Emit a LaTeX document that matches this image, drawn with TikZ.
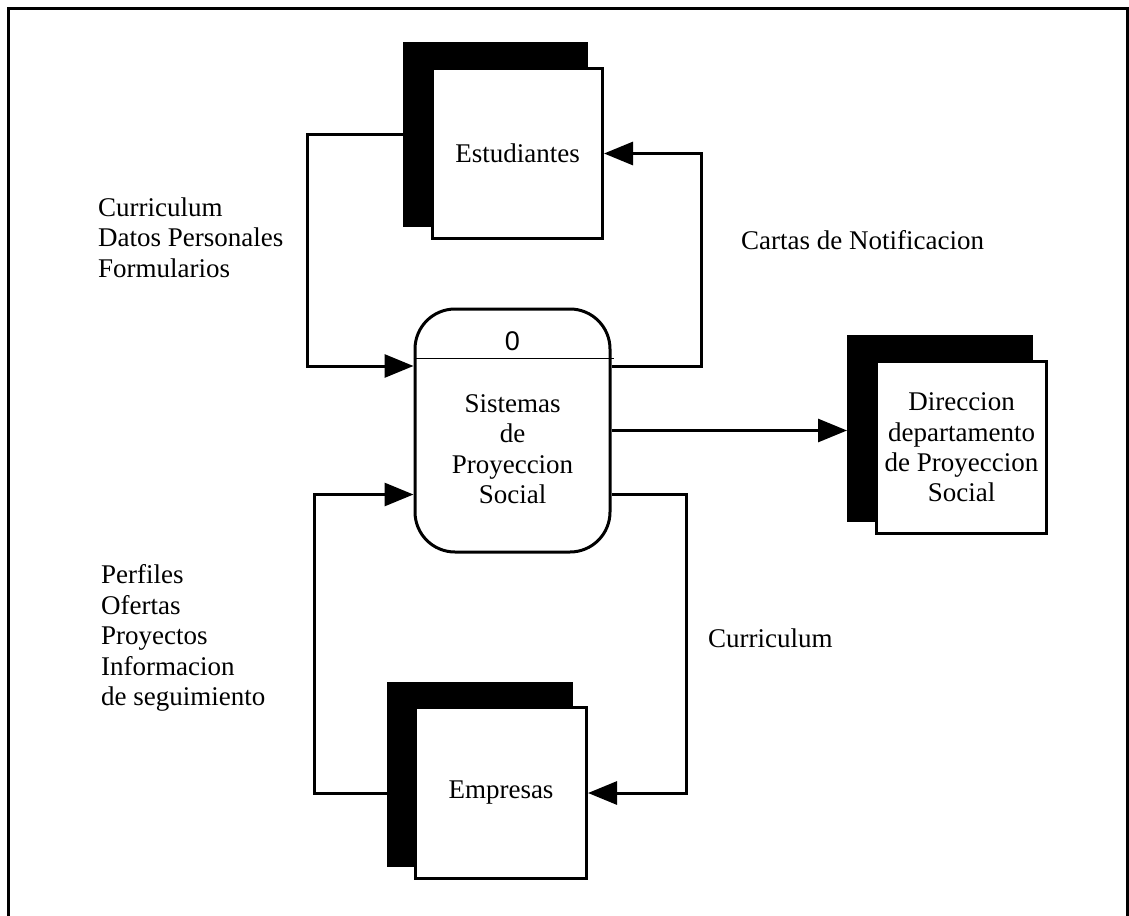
\documentclass[tikz,border=0pt]{standalone}
\usepackage{fontspec}
\setmainfont{Liberation Serif}
\newfontfamily\numfont{Liberation Sans}
\usetikzlibrary{arrows.meta,calc}

\begin{document}
\begin{tikzpicture}[x=1pt,y=-1pt,
  shadowbox/.style={fill=black,draw=none,inner sep=0pt,anchor=north west},
  storebox/.style={fill=white,draw=black,line width=3pt,inner sep=0pt,anchor=north west,align=center,font=\fontsize{27}{30.3}\selectfont},
  procbox/.style={draw=black,fill=white,line width=3pt,rounded corners=40pt,inner sep=0pt,anchor=north west},
  flow/.style={line width=3pt,-{Triangle[length=29pt,width=23pt]}},
  label/.style={inner sep=0pt,align=left,font=\fontsize{27}{30.5}\selectfont}]

\useasboundingbox (0,0) rectangle (1129,915);
% outer frame, open at the bottom edge of the page
\draw[line width=2.6pt] (8.7,920) -- (8.7,8.7) -- (1127.5,8.7) -- (1127.5,920);

% external entity: Estudiantes
\node[shadowbox,minimum width=185pt,minimum height=185pt] (est-sh) at (403,42) {};
\node[storebox,minimum width=170pt,minimum height=170pt] (est) at (431,67) {Estudiantes};

% external entity: Direccion
\node[shadowbox,minimum width=186pt,minimum height=187pt] (dir-sh) at (847,335) {};
\node[storebox,minimum width=170pt,minimum height=172pt] (dir) at (875,360) {Direccion\\departamento\\de Proyeccion\\Social};

% external entity: Empresas
\node[shadowbox,minimum width=186pt,minimum height=185pt] (emp-sh) at (387,682) {};
\node[storebox,minimum width=171pt,minimum height=171pt] (emp) at (414,706) {Empresas};

% process 0
\node[procbox,minimum width=195pt,minimum height=243pt] (proc) at (413.5,307.5) {};
\draw[line width=1pt] ([yshift=-50.5pt]proc.north west) -- ([yshift=-50.5pt,xshift=2pt]proc.north east);
\node[anchor=base,inner sep=0pt,font=\numfont\fontsize{27}{30}\selectfont] (pnum) at ([yshift=-42.5pt]proc.north) {0};
\node[anchor=north,inner sep=0pt,align=center,font=\fontsize{27}{30.3}\selectfont] (pname) at ([yshift=-87pt]proc.north) {Sistemas\\de\\Proyeccion\\Social};

% data flows
\draw[flow] (est-sh.west) -- ++(-96,0) |- ([yshift=-58.5pt]proc.north west);
\draw[flow] ([yshift=-58.5pt]proc.north east) -- ++(89.5,0) |- (est.east);
\draw[flow] (proc.east) -- (proc.east -| dir-sh.west);
\draw[flow] (emp.west -| emp-sh.west) -- ++(-73,0) |- ([yshift=59pt]proc.south west);
\draw[flow] ([yshift=59pt]proc.south east) -- ++(74.5,0) |- (emp.east);

% flow labels
\node[label,anchor=north west] (l1) at (98,197.5) {Curriculum\\Datos Personales\\Formularios};
\node[label,anchor=base west] (l2) at (741,249) {Cartas de Notificacion};
\node[label,anchor=north west] (l3) at (101,564.5) {Perfiles\\Ofertas\\Proyectos\\Informacion\\de seguimiento};
\node[label,anchor=base west] (l4) at (708,647) {Curriculum};
\end{tikzpicture}
\end{document}
